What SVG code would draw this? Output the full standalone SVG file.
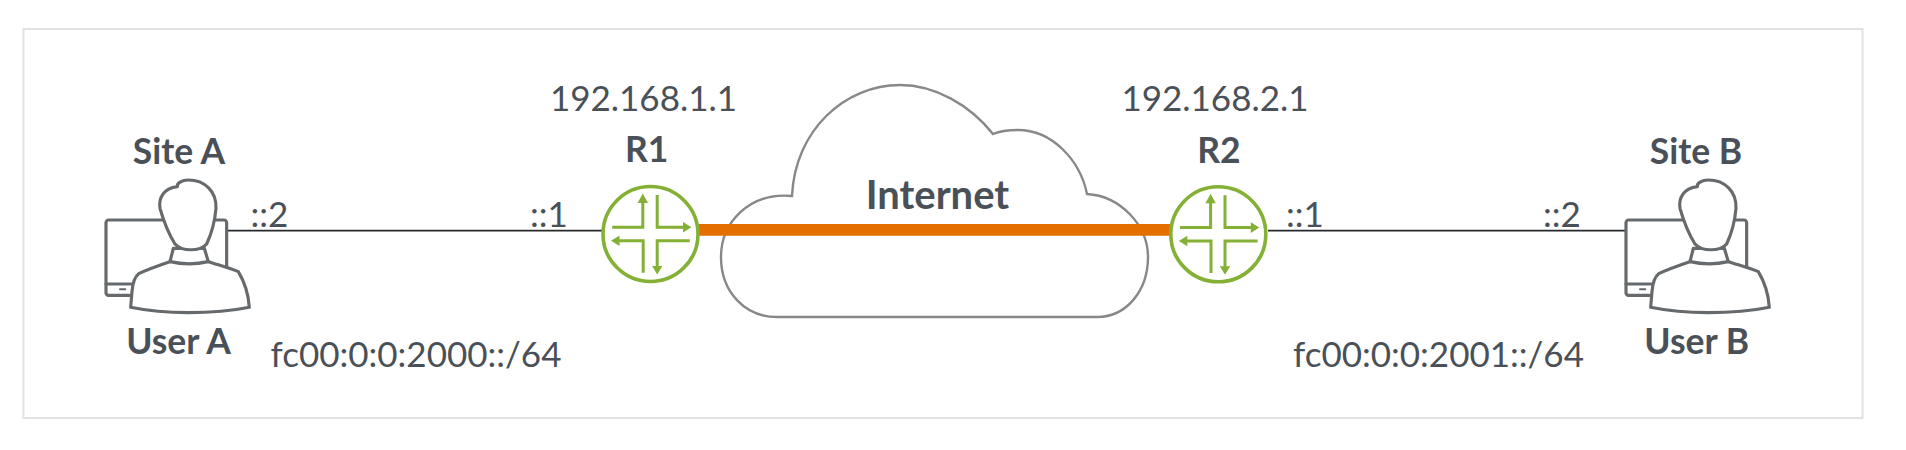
<svg xmlns="http://www.w3.org/2000/svg" width="1906" height="450" viewBox="0 0 1906 450">
<style>
text{font-family:Lato,"Open Sans","Liberation Sans",sans-serif;fill:#4a5058;font-size:35px}
.b{font-weight:700;font-size:35.5px}
.m{text-anchor:middle}
.u{fill:#fff;stroke:#666a6d;stroke-width:9.5;stroke-linejoin:round;stroke-linecap:round}
.ra{fill:none;stroke:#84b135;stroke-width:3}
.rh{fill:#84b135}
</style>
<defs>
<g id="user">
<g transform="translate(60 120) scale(.3333)">
<rect class="u" x="138" y="300" width="362" height="226" rx="8"/>
<path class="u" d="M138 492H230"/>
<path d="M180 508H196" stroke="#666a6d" stroke-width="6" stroke-linecap="round"/>
<path class="u" d="M340 385L330 425C295 437 262 448 236 461C222 472 218 490 216 515L212 562C270 574 330 578 385 578C450 578 510 574 568 562C566 530 556 490 535 455C505 442 475 435 445 425L433 385Z"/>
<path class="u" d="M352 200C350 190 365 180 385 180C435 180 470 215 468 265C465 300 455 340 440 372C420 395 365 395 345 372C325 340 310 300 300 265C295 235 310 205 352 200Z"/>
<path class="u" style="fill:none" d="M330 425C365 433 410 433 445 425"/>
</g>
</g>
<g id="router">
<circle r="47.5" fill="#fff" stroke="#84b135" stroke-width="3.6"/>
<path class="ra" d="M-38.3-6.7H-7.7V-34M6.7-39V-6.7H35M39.3 6.7H6.7V34M-7.3 38.7V6.7H-34"/>
<path class="rh" d="M-7.7-40.5L-12.9-31H-2.5ZM41-6.7L32.5-12V-1.4ZM6.7 40.5L1.5 32H11.9ZM-39.5 6.7L-31 1.4V12Z"/>
</g>
</defs>
<rect id="frame" x="23.5" y="29" width="1839" height="389" fill="#fff" stroke="#e2e2e2" stroke-width="2"/>
<g id="cloud">
<path d="M777 317H1097C1127 317 1148 290 1148 257C1148 225 1120 196 1087 194C1080 160 1052 130 1018 130C1010 130 1000 131 993 134C970 105 935 85 900 85C845 85 795 130 792 196C750 192 721 222 721 257C721 292 745 317 777 317Z" fill="#fff" stroke="#888" stroke-width="2.4"/>
<text class="b m" x="937.5" y="209" style="font-size:40px">Internet</text>
</g>
<g id="connectors">
<path d="M228 230.7H602M1268 230.7H1625" stroke="#26282b" stroke-width="1.8" fill="none"/>
<path d="M699 229.8H1170" stroke="#e56e00" stroke-width="11.7" fill="none"/>
</g>
<g id="user-a">
<use href="#user"/>
<text class="b m" x="179" y="164.3">Site A</text>
<text class="b m" x="178.5" y="354.3">User A</text>
</g>
<g id="user-b">
<use href="#user" x="1520"/>
<text class="b m" x="1696" y="164.3">Site B</text>
<text class="b m" x="1696.7" y="354.3">User B</text>
</g>
<g id="r1">
<use href="#router" x="650.5" y="234"/>
<text class="b m" x="646.7" y="162.3">R1</text>
<text class="m" x="643.5" y="110.7">192.168.1.1</text>
</g>
<g id="r2">
<use href="#router" x="1218.3" y="234.3"/>
<text class="b m" x="1219" y="162.7">R2</text>
<text class="m" x="1215" y="111.2">192.168.2.1</text>
</g>
<g id="labels">
<text x="250.5" y="226.7">::2</text>
<text x="530" y="226.7">::1</text>
<text x="1286" y="226.7">::1</text>
<text x="1543" y="226.7">::2</text>
<text x="270.5" y="366.7">fc00:0:0:2000::/64</text>
<text x="1293" y="366.7">fc00:0:0:2001::/64</text>
</g>
</svg>
